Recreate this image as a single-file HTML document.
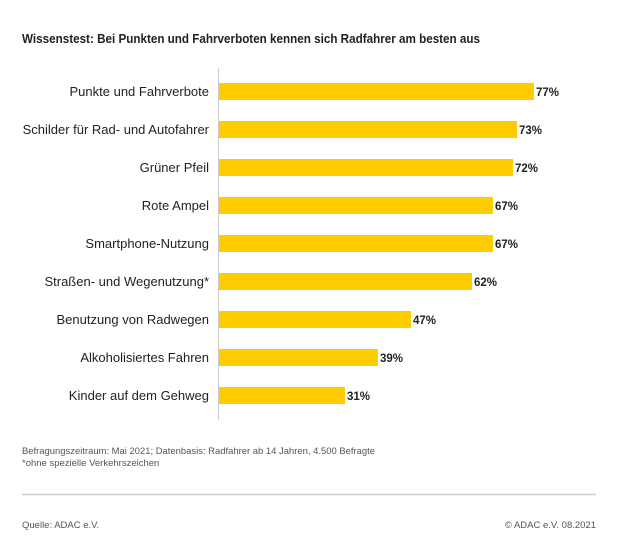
<!DOCTYPE html>
<html><head><meta charset="utf-8"><style>
body{margin:0;background:#fff;width:621px;height:538px;overflow:hidden;font-family:"Liberation Sans",sans-serif;}
</style></head><body>
<svg width="621" height="538" xmlns="http://www.w3.org/2000/svg" font-family="Liberation Sans, sans-serif">
<text x="22" y="43" font-size="13" font-weight="bold" fill="#222" textLength="458" lengthAdjust="spacingAndGlyphs">Wissenstest: Bei Punkten und Fahrverboten kennen sich Radfahrer am besten aus</text>
<line x1="218.5" y1="68" x2="218.5" y2="420" stroke="#ccc" stroke-width="1"/>
<g font-size="13" fill="#222">
<rect x="219" y="83" width="315" height="17" fill="#ffcc00"/><text x="209" y="96" text-anchor="end">Punkte und Fahrverbote</text><text x="536" y="96" font-weight="bold" font-size="11.5">77%</text>
<rect x="219" y="121" width="298" height="17" fill="#ffcc00"/><text x="209" y="134" text-anchor="end">Schilder für Rad- und Autofahrer</text><text x="519" y="134" font-weight="bold" font-size="11.5">73%</text>
<rect x="219" y="159" width="294" height="17" fill="#ffcc00"/><text x="209" y="172" text-anchor="end">Grüner Pfeil</text><text x="515" y="172" font-weight="bold" font-size="11.5">72%</text>
<rect x="219" y="197" width="274" height="17" fill="#ffcc00"/><text x="209" y="210" text-anchor="end">Rote Ampel</text><text x="495" y="210" font-weight="bold" font-size="11.5">67%</text>
<rect x="219" y="235" width="274" height="17" fill="#ffcc00"/><text x="209" y="248" text-anchor="end">Smartphone-Nutzung</text><text x="495" y="248" font-weight="bold" font-size="11.5">67%</text>
<rect x="219" y="273" width="253" height="17" fill="#ffcc00"/><text x="209" y="286" text-anchor="end">Straßen- und Wegenutzung*</text><text x="474" y="286" font-weight="bold" font-size="11.5">62%</text>
<rect x="219" y="311" width="192" height="17" fill="#ffcc00"/><text x="209" y="324" text-anchor="end">Benutzung von Radwegen</text><text x="413" y="324" font-weight="bold" font-size="11.5">47%</text>
<rect x="219" y="349" width="159" height="17" fill="#ffcc00"/><text x="209" y="362" text-anchor="end">Alkoholisiertes Fahren</text><text x="380" y="362" font-weight="bold" font-size="11.5">39%</text>
<rect x="219" y="387" width="126" height="17" fill="#ffcc00"/><text x="209" y="400" text-anchor="end">Kinder auf dem Gehweg</text><text x="347" y="400" font-weight="bold" font-size="11.5">31%</text>
</g>
<g font-size="9.5" fill="#555">
<text x="22" y="454" textLength="353" lengthAdjust="spacingAndGlyphs">Befragungszeitraum: Mai 2021; Datenbasis: Radfahrer ab 14 Jahren, 4.500 Befragte</text>
<text x="22" y="466">*ohne spezielle Verkehrszeichen</text>
<text x="22" y="528">Quelle: ADAC e.V.</text>
<text x="596" y="528" text-anchor="end">© ADAC e.V. 08.2021</text>
</g>
<line x1="22" y1="494.5" x2="596" y2="494.5" stroke="#ccc" stroke-width="1.5"/>
</svg>
</body></html>
